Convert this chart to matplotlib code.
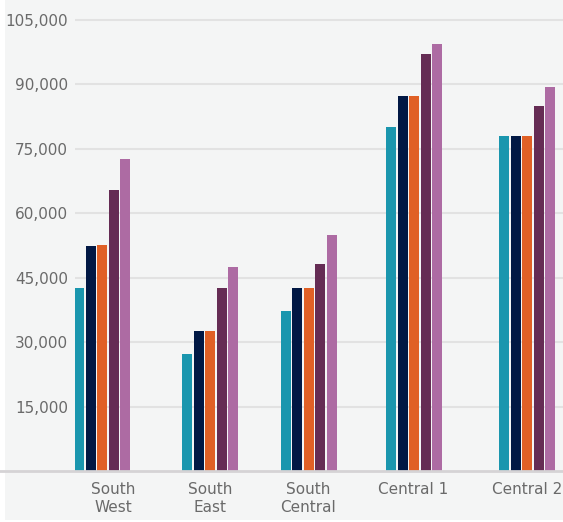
import matplotlib
matplotlib.use("Agg")
import matplotlib.pyplot as plt
from matplotlib.patches import Rectangle
from matplotlib.ticker import FuncFormatter

regions = ["South\nWest", "South\nEast", "South\nCentral", "Central 1", "Central 2"]
series_teal = [42500, 27300, 37300, 80000, 78000]
series_navy = [52400, 32500, 42500, 87300, 78000]
series_orange = [52700, 32500, 42500, 87300, 78000]
series_plum = [65500, 42500, 48300, 97200, 85000]
series_pink = [72700, 47500, 55000, 99300, 89500]
y_ticks = [15000, 30000, 45000, 60000, 75000, 90000, 105000]

colors = ["#1a96ae", "#011844", "#e06026", "#652c54", "#ad6ba3"]
series = [series_teal, series_navy, series_orange, series_plum, series_pink]

W, H, DPI = 563, 522, 100
bg = "#f4f5f5"
text_color = "#6a6a6a"

fig = plt.figure(figsize=(W / DPI, H / DPI), dpi=DPI, facecolor="white")
fig.patches.append(Rectangle((5 / W, 2 / H), 1 - 5 / W, 1 - 2 / H,
                             transform=fig.transFigure, facecolor=bg,
                             edgecolor="none", zorder=-10))

left_px, base_px = 75, 471
ax = fig.add_axes([left_px / W, (H - base_px) / H, 1 - left_px / W, base_px / H])
ax.set_facecolor("none")

# x axis measured in pixels of the canvas
ax.set_xlim(left_px, W)
ax.set_ylim(0, 105000 * base_px / 451)

group_centres = [102, 210, 308.5, 414, 527]
label_centres = [113, 210, 308, 413.5, 527]
bar_w, step = 10, 11.5

for k, (vals, c) in enumerate(zip(series, colors)):
    xs = [g + (k - 2) * step for g in group_centres]
    ax.bar(xs, vals, width=bar_w, color=c, linewidth=0, zorder=3)

ax.set_yticks(y_ticks)
ax.yaxis.set_major_formatter(FuncFormatter(lambda v, p: f"{int(v):,}"))
ax.yaxis.grid(True, color="#e2e2e2", linewidth=1.5, zorder=0)
ax.set_axisbelow(True)

ax.set_xticks(label_centres)
ax.set_xticklabels(regions, linespacing=1.25)

ax.tick_params(axis="y", length=0, pad=5, labelsize=11, labelcolor=text_color)
ax.tick_params(axis="x", length=0, pad=8, labelsize=11, labelcolor=text_color)

for s in ax.spines.values():
    s.set_visible(False)

# baseline running across the full width
ax.axhline(0, xmin=-left_px / (W - left_px), xmax=1, color="#d5d3d5",
           linewidth=2, clip_on=False, zorder=4)

fig.savefig("out.png", dpi=DPI, facecolor="white")
